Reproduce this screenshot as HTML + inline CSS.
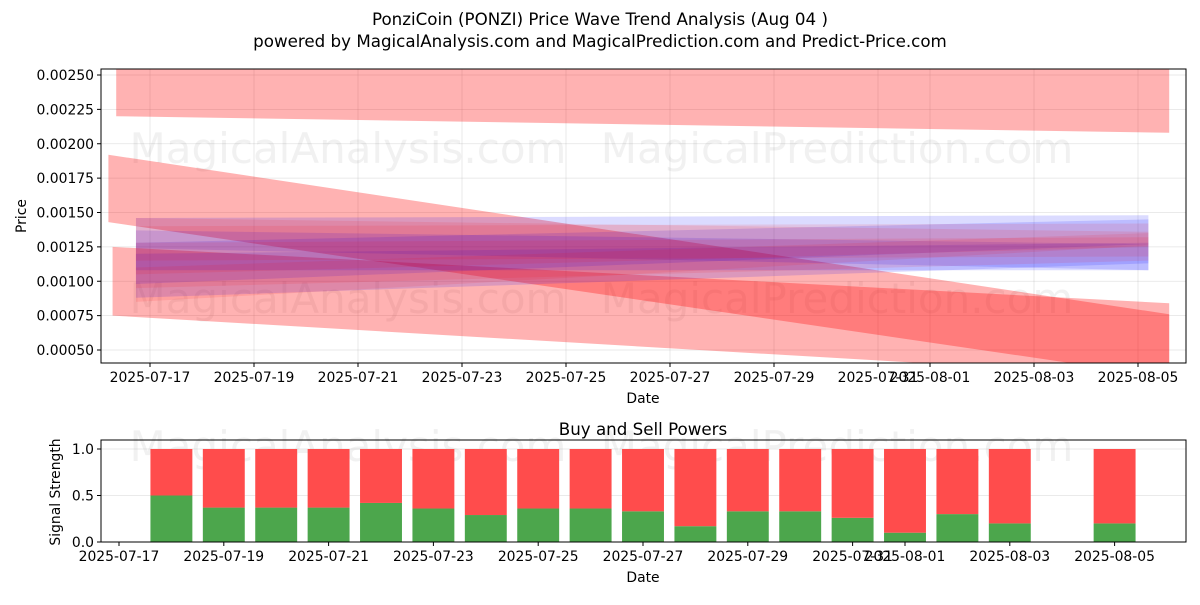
<!DOCTYPE html>
<html><head><meta charset="utf-8"><style>
body{margin:0;background:#fff;font-family:"Liberation Sans","DejaVu Sans",sans-serif}
text{font-family:"DejaVu Sans","Liberation Sans",sans-serif}
</style></head><body>
<svg id="chart" width="1200" height="600" xmlns="http://www.w3.org/2000/svg"></svg>
<script>
// ---- top chart data (day offsets from 2025-07-17) ----
const bandStart = [-0.65, -0.8, -0.72, -0.27, -0.27, -0.27, -0.27, -0.27, -0.27, -0.27, -0.27];
const bandEnd   = [19.6, 19.6, 19.6, 19.2, 19.2, 19.2, 19.2, 19.2, 19.2, 19.2, 19.2];
const bandUpper0 = [0.00255, 0.00192, 0.00125, 0.00146, 0.00137, 0.00128, 0.00120, 0.00140, 0.00146, 0.00128, 0.00110];
const bandLower0 = [0.00220, 0.00143, 0.00075, 0.00124, 0.00108, 0.00098, 0.00088, 0.00105, 0.00115, 0.00085, 0.00095];
const bandUpper1 = [0.00255, 0.00076, 0.00084, 0.00148, 0.00127, 0.00145, 0.00128, 0.00142, 0.00136, 0.00132, 0.00135];
const bandLower1 = [0.00208, 0.00030, 0.00030, 0.00108, 0.00108, 0.00127, 0.00113, 0.00125, 0.00118, 0.00126, 0.00115];
const bandColor = ['r','r','r','b','b','b','b','r','r','r','r'];
const priceTicks = [0.0005,0.00075,0.001,0.00125,0.0015,0.00175,0.002,0.00225,0.0025];
const dateTicksTop = ['2025-07-17','2025-07-19','2025-07-21','2025-07-23','2025-07-25','2025-07-27','2025-07-29','2025-07-31','2025-08-01','2025-08-03','2025-08-05'];
const dateTickDaysTop = [0,2,4,6,8,10,12,14,15,17,19];
// ---- bottom chart data ----
const barDays = [1,2,3,4,5,6,7,8,9,10,11,12,13,14,15,16,17,19];
const buyPower = [0.5,0.37,0.37,0.37,0.42,0.36,0.29,0.36,0.36,0.33,0.17,0.33,0.33,0.26,0.1,0.3,0.2,0.2];
const sellPower = [0.5,0.63,0.63,0.63,0.58,0.64,0.71,0.64,0.64,0.67,0.83,0.67,0.67,0.74,0.9,0.7,0.8,0.8];
const signalTicks = [0,0.5,1.0];
const signalTickLabels = ['0.0','0.5','1.0'];

const svg=document.getElementById('chart');const NS='http://www.w3.org/2000/svg';
function mk(t,a,txt,parent){const e=document.createElementNS(NS,t);for(const k in a)e.setAttribute(k,a[k]);if(txt!=null)e.textContent=txt;(parent||svg).appendChild(e);return e;}
const T={l:101,r:1186,t:69,b:363};
const xT=d=>150+d*52;
const yT=p=>75+(0.0025-p)/0.00025*34.375;
const B={l:101,r:1186,t:440,b:542};
const xB=d=>119+d*52.4;
const yB=v=>542-v*93;
const FS=13.9, TFS=16.7;

let e;
e=mk('text',{x:600,y:25,'text-anchor':'middle','font-size':TFS},'PonziCoin (PONZI) Price Wave Trend Analysis (Aug 04 )');

e=mk('text',{x:600,y:47,'text-anchor':'middle','font-size':TFS},'powered by MagicalAnalysis.com and MagicalPrediction.com and Predict-Price.com');


const defs=mk('defs',{});
const cp=mk('clipPath',{id:'cpT'},null,defs);mk('rect',{x:T.l,y:T.t,width:T.r-T.l,height:T.b-T.t},null,cp);
const cpb=mk('clipPath',{id:'cpB'},null,defs);mk('rect',{x:B.l,y:B.t,width:B.r-B.l,height:B.b-B.t},null,cpb);

const gT=mk('g',{});
priceTicks.forEach(p=>mk('line',{x1:T.l,x2:T.r,y1:yT(p),y2:yT(p),stroke:'#b0b0b0','stroke-opacity':0.35,'stroke-width':0.8},null,gT));
dateTickDaysTop.forEach(d=>mk('line',{x1:xT(d),x2:xT(d),y1:T.t,y2:T.b,stroke:'#b0b0b0','stroke-opacity':0.35,'stroke-width':0.8},null,gT));

[['MagicalAnalysis.com',348,163],['MagicalPrediction.com',837,163],['MagicalAnalysis.com',348,313],['MagicalPrediction.com',837,313],['MagicalAnalysis.com',348,461],['MagicalPrediction.com',837,461]].forEach(w=>{
 e=mk('text',{x:w[1],y:w[2],'text-anchor':'middle','font-size':42,fill:'#888','fill-opacity':0.12},w[0]);
 });

const gBands=mk('g',{'clip-path':'url(#cpT)'});
bandStart.forEach((s,i)=>{
 const x0=xT(s),x1=xT(bandEnd[i]);
 const pts=`${x0},${yT(bandUpper0[i])} ${x1},${yT(bandUpper1[i])} ${x1},${yT(bandLower1[i])} ${x0},${yT(bandLower0[i])}`;
 const col=bandColor[i]==='r'?'#ff0000':'#0000ff';
 const op=i<3?0.3:(bandColor[i]==='r'?0.1:0.14);
 e=mk('polygon',{points:pts,fill:col,'fill-opacity':op},null,gBands);
 
});

e=mk('rect',{x:T.l,y:T.t,width:T.r-T.l,height:T.b-T.t,fill:'none',stroke:'#000','stroke-width':1});

const yAx=mk('g',{});
priceTicks.forEach(p=>{mk('line',{x1:T.l-4,x2:T.l,y1:yT(p),y2:yT(p),stroke:'#000'},null,yAx);
 mk('text',{x:T.l-7,y:yT(p)+5,'text-anchor':'end','font-size':FS},p.toFixed(5),yAx);});
const xAx=mk('g',{});
dateTickDaysTop.forEach((d,i)=>{mk('line',{x1:xT(d),x2:xT(d),y1:T.b,y2:T.b+4,stroke:'#000'},null,xAx);
 mk('text',{x:xT(d),y:T.b+19,'text-anchor':'middle','font-size':FS},dateTicksTop[i],xAx);});
e=mk('text',{x:643,y:403,'text-anchor':'middle','font-size':FS},'Date');
e=mk('text',{x:26,y:216,'text-anchor':'middle','font-size':FS,transform:'rotate(-90 26 216)'},'Price');

e=mk('text',{x:643,y:435,'text-anchor':'middle','font-size':TFS},'Buy and Sell Powers');
const gB=mk('g',{});
signalTicks.forEach(v=>mk('line',{x1:B.l,x2:B.r,y1:yB(v),y2:yB(v),stroke:'#b0b0b0','stroke-opacity':0.35,'stroke-width':0.8},null,gB));
const gBars=mk('g',{'clip-path':'url(#cpB)'});
barDays.forEach((d,i)=>{const w=0.8*52.4,x=xB(d)-w/2;
 e=mk('rect',{x:x,y:yB(buyPower[i]),width:w,height:yB(0)-yB(buyPower[i]),fill:'#4ca64c'},null,gBars);
 
 e=mk('rect',{x:x,y:yB(buyPower[i]+sellPower[i]),width:w,height:yB(buyPower[i])-yB(buyPower[i]+sellPower[i]),fill:'#ff4c4c'},null,gBars);
 });
e=mk('rect',{x:B.l,y:B.t,width:B.r-B.l,height:B.b-B.t,fill:'none',stroke:'#000','stroke-width':1});

const yAxB=mk('g',{});
signalTicks.forEach((v,i)=>{mk('line',{x1:B.l-4,x2:B.l,y1:yB(v),y2:yB(v),stroke:'#000'},null,yAxB);
 mk('text',{x:B.l-7,y:yB(v)+5,'text-anchor':'end','font-size':FS},signalTickLabels[i],yAxB);});
const xAxB=mk('g',{});
dateTickDaysTop.forEach((d,i)=>{mk('line',{x1:xB(d),x2:xB(d),y1:B.b,y2:B.b+4,stroke:'#000'},null,xAxB);
 mk('text',{x:xB(d),y:B.b+19,'text-anchor':'middle','font-size':FS},dateTicksTop[i],xAxB);});
e=mk('text',{x:643,y:582,'text-anchor':'middle','font-size':FS},'Date');
e=mk('text',{x:60,y:492,'text-anchor':'middle','font-size':FS,transform:'rotate(-90 60 492)'},'Signal Strength');
</script>
</body></html>
